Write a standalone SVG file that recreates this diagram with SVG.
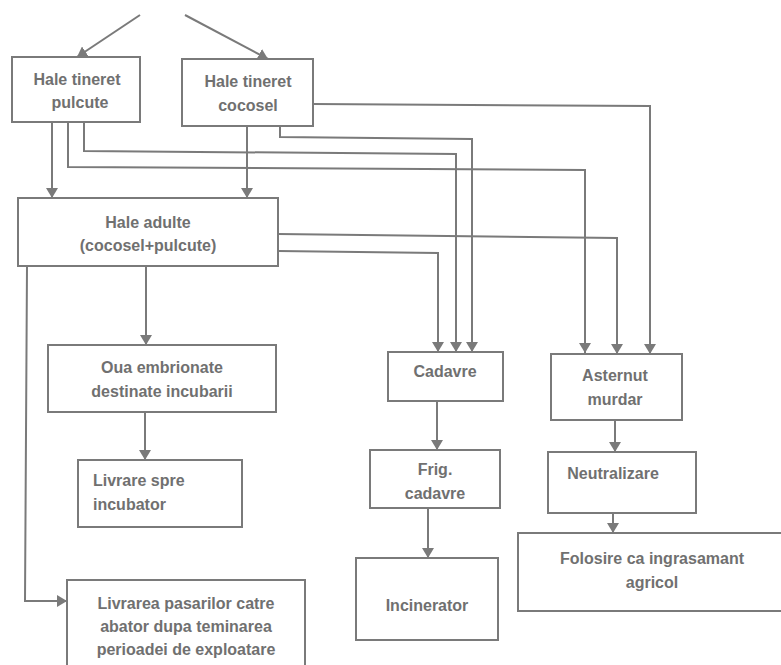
<svg xmlns="http://www.w3.org/2000/svg" width="781" height="665" viewBox="0 0 781 665">
<defs>
<marker id="ah" viewBox="0 0 10 12" refX="10" refY="6" markerWidth="10" markerHeight="12" markerUnits="userSpaceOnUse" orient="auto">
<path d="M0,0 L10,6 L0,12 z" fill="#7a7a7a"/>
</marker>
<style>
.box{fill:#ffffff;stroke:#7a7a7a;stroke-width:2}
.t{font-family:"Liberation Sans",Arial,sans-serif;font-weight:bold;font-size:16px;fill:#707070;text-anchor:middle}
.tl{text-anchor:start}
.c{fill:none;stroke:#7a7a7a;stroke-width:2;marker-end:url(#ah)}
</style>
</defs>
<rect width="781" height="665" fill="#ffffff"/>
<g id="connectors">
<path class="c" d="M140,15 L77,57"/>
<path class="c" d="M185,15 L268,59"/>
<path class="c" d="M52,122 L52,198"/>
<path class="c" d="M247,126 L247,198"/>
<path class="c" d="M68,122 L68,167 L585,170 L585,353"/>
<path class="c" d="M84,122 L84,151 L456,154 L456,352"/>
<path class="c" d="M280,126 L280,137 L472,139 L472,352"/>
<path class="c" d="M313,104 L650,106 L650,354"/>
<path class="c" d="M278,234 L617,238 L617,354"/>
<path class="c" d="M278,251 L438,253 L438,352"/>
<path class="c" d="M146,266 L146,345"/>
<path class="c" d="M27,266 L25,601 L67,601"/>
<path class="c" d="M145,412 L145,460"/>
<path class="c" d="M437,401 L437,450"/>
<path class="c" d="M428,508 L428,558"/>
<path class="c" d="M615,420 L615,452"/>
<path class="c" d="M613,502 L613,533"/>
</g>
<g id="n_pulcute">
<rect class="box" x="12" y="57" width="128" height="65"/>
<text class="t" x="77" y="85">Hale tineret</text>
<text class="t" x="80" y="108">pulcute</text>
</g>
<g id="n_cocosel">
<rect class="box" x="182" y="59" width="131" height="67"/>
<text class="t" x="248" y="87">Hale tineret</text>
<text class="t" x="248" y="111">cocosel</text>
</g>
<g id="n_adulte">
<rect class="box" x="18" y="198" width="260" height="68"/>
<text class="t" x="148" y="228">Hale adulte</text>
<text class="t" x="148" y="251">(cocosel+pulcute)</text>
</g>
<g id="n_oua">
<rect class="box" x="48" y="345" width="228" height="67"/>
<text class="t" x="162" y="373">Oua embrionate</text>
<text class="t" x="162" y="397">destinate incubarii</text>
</g>
<g id="n_livrare">
<rect class="box" x="78" y="460" width="164" height="67"/>
<text class="t tl" x="93" y="486">Livrare spre</text>
<text class="t tl" x="93" y="510">incubator</text>
</g>
<g id="n_abator">
<rect class="box" x="67" y="580" width="238" height="100"/>
<text class="t" x="186" y="609">Livrarea pasarilor catre</text>
<text class="t" x="186" y="632">abator dupa teminarea</text>
<text class="t" x="186" y="655">perioadei de exploatare</text>
</g>
<g id="n_cadavre">
<rect class="box" x="388" y="352" width="115" height="49"/>
<text class="t" x="445" y="377">Cadavre</text>
</g>
<g id="n_asternut">
<rect class="box" x="551" y="354" width="131" height="66"/>
<text class="t" x="615" y="381">Asternut</text>
<text class="t" x="615" y="405">murdar</text>
</g>
<g id="n_frig">
<rect class="box" x="370" y="450" width="130" height="58"/>
<text class="t" x="435" y="475">Frig.</text>
<text class="t" x="435" y="499">cadavre</text>
</g>
<g id="n_neutralizare">
<rect class="box" x="548" y="452" width="148" height="61"/>
<text class="t" x="613" y="479">Neutralizare</text>
</g>
<g id="n_incinerator">
<rect class="box" x="356" y="558" width="142" height="82"/>
<text class="t" x="427" y="611">Incinerator</text>
</g>
<g id="n_folosire">
<rect class="box" x="518" y="533" width="266" height="78"/>
<text class="t" x="652" y="564">Folosire ca ingrasamant</text>
<text class="t" x="652" y="588">agricol</text>
</g>
</svg>
